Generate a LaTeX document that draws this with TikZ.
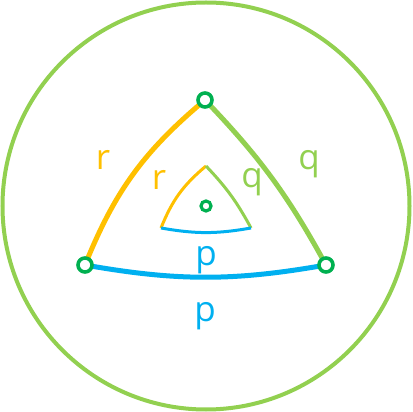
\documentclass[tikz,border=0pt]{standalone}
\usepackage{fontspec}
\setmainfont{Open Sans}
\definecolor{orng}{HTML}{FFC000}
\definecolor{lgrn}{HTML}{92D050}
\definecolor{blu}{HTML}{00B0F0}
\definecolor{dgrn}{HTML}{00B050}
\begin{document}
\begin{tikzpicture}[x=1pt,y=1pt,
  vtx/.style={circle,draw=dgrn,fill=white,line width=3.6pt,minimum size=14pt,inner sep=0pt},
  cdot/.style={circle,draw=dgrn,fill=white,line width=3.2pt,minimum size=10pt,inner sep=0pt},
  thick edge/.style={line width=5pt},
  thin edge/.style={line width=3pt},
  lbl/.style={anchor=base,inner sep=0pt,font=\fontsize{35}{40}\selectfont}]
\useasboundingbox (0,0) rectangle (412,412);
\node[circle,draw=lgrn,line width=4pt,minimum size=407pt,inner sep=0pt] (big) at (206,206) {};
% outer triangle
\coordinate (T) at (205,312);
\coordinate (L) at (85,147);
\coordinate (R) at (326,147);
\draw[thick edge,orng] (L) to[bend left=14] (T);
\draw[thick edge,lgrn] (T) to[bend left=7.5] (R);
\draw[thick edge,blu] (L) to[bend right=10] (R);
% inner triangle
\coordinate (t) at (206,246);
\coordinate (l) at (161,184);
\coordinate (r) at (251,184);
\draw[thin edge,orng] (l) to[bend left=14] (t);
\draw[thin edge,lgrn] (t) to[bend left=7.5] (r);
\draw[thin edge,blu] (l) to[bend right=10] (r);
% vertices
\node[vtx] (vT) at (T) {};
\node[vtx] (vL) at (L) {};
\node[vtx] (vR) at (R) {};
\node[cdot] (c) at (206,206) {};
% labels
\node[lbl,text=orng] (r1) at (103,242) {r};
\node[lbl,text=orng] (r2) at (159,222) {r};
\node[lbl,text=lgrn] (q1) at (309,242) {q};
\node[lbl,text=lgrn] (q2) at (252,224) {q};
\node[lbl,text=blu] (p1) at (206,146) {p};
\node[lbl,text=blu] (p2) at (205,90) {p};
\end{tikzpicture}
\end{document}
